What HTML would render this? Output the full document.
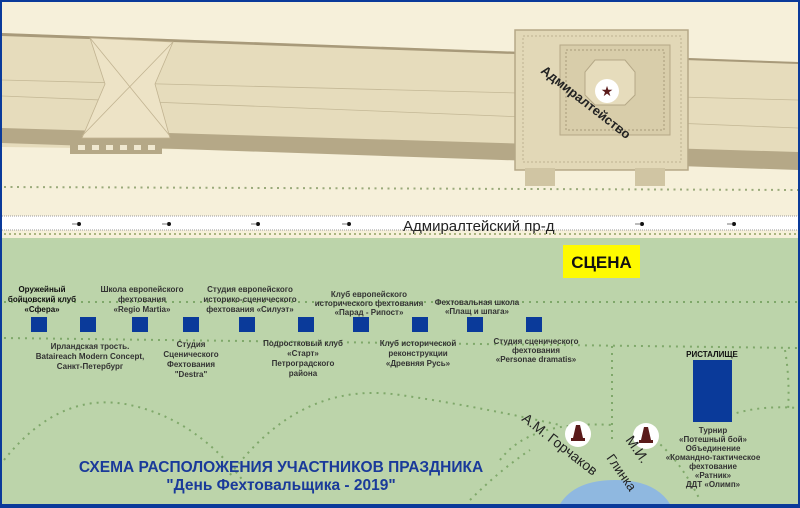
<!DOCTYPE html>
<html><head><meta charset="utf-8"><style>
html,body{margin:0;padding:0;background:#0a3a9a;width:800px;height:508px;overflow:hidden;}
svg{display:block;overflow:hidden;}
text{font-family:"Liberation Sans",sans-serif;font-weight:bold;}
.l{font-size:8px;fill:#333;text-anchor:middle;}
</style></head><body>
<svg width="800" height="508" viewBox="0 0 800 508" xmlns="http://www.w3.org/2000/svg">
<defs><clipPath id="c"><rect x="0" y="0" width="800" height="508"/></clipPath></defs>
<g clip-path="url(#c)">
<rect x="0" y="0" width="800" height="508" fill="#0a3a9a"/>
<rect x="2" y="2" width="796" height="236" fill="#f6f0da"/>
<polygon points="2,33 798,62 798,157 2,147" fill="#e6dcbc"/>
<polygon points="2,128 798,152 798,170 2,143" fill="#b5a887"/>
<polygon points="2,33 798,62 798,64 2,36" fill="#a89a7a"/>
<line x1="2" y1="80" x2="798" y2="100" stroke="#c4b896" stroke-width="0.8"/>
<line x1="2" y1="96" x2="798" y2="128" stroke="#c4b896" stroke-width="0.8"/>
<polygon points="90,38 173,42 155,84 170,138 82,138 105,84" fill="#ede3c6" stroke="#c1b391" stroke-width="0.8"/>
<line x1="90" y1="38" x2="170" y2="136" stroke="#c1b391" stroke-width="0.8"/>
<line x1="173" y1="42" x2="82" y2="136" stroke="#c1b391" stroke-width="0.8"/>
<rect x="70" y="141" width="92" height="13" fill="#b5a887"/>
<g fill="#f0e8d0"><rect x="78" y="145" width="7" height="5"/><rect x="92" y="145" width="7" height="5"/><rect x="106" y="145" width="7" height="5"/><rect x="120" y="145" width="7" height="5"/><rect x="134" y="145" width="7" height="5"/><rect x="148" y="145" width="7" height="5"/></g>
<rect x="515" y="30" width="173" height="140" fill="#e2d8b7" stroke="#b5a887" stroke-width="1.5"/>
<rect x="523" y="36" width="158" height="126" fill="none" stroke="#bfb292" stroke-width="1" stroke-dasharray="2,2"/>
<rect x="560" y="45" width="110" height="90" fill="#d8cdaa" stroke="#b5a887" stroke-width="1"/>
<rect x="566" y="50" width="98" height="80" fill="none" stroke="#a89a7a" stroke-width="1" stroke-dasharray="2,2"/>
<polygon points="595,60 625,60 635,72 635,95 625,105 595,105 585,95 585,72" fill="#e6dcbc" stroke="#b5a887"/>
<rect x="525" y="168" width="30" height="18" fill="#d0c5a3"/>
<rect x="635" y="168" width="30" height="18" fill="#d0c5a3"/>
<circle cx="607" cy="91" r="12" fill="#fff"/>
<text x="607" y="96" font-size="14" fill="#5a1a1a" text-anchor="middle" style="font-weight:normal">★</text>
<text x="0" y="0" font-size="13" fill="#222" transform="translate(540,72) rotate(38)">Адмиралтейство</text>
<line x1="4" y1="187" x2="798" y2="190" stroke="#9aaa7a" stroke-width="2" stroke-dasharray="2,4.5"/>
<rect x="2" y="216" width="796" height="14" fill="#fff"/>
<line x1="2" y1="216" x2="798" y2="216" stroke="#999" stroke-width="1" stroke-dasharray="1,1"/>
<line x1="2" y1="230" x2="798" y2="230" stroke="#999" stroke-width="1" stroke-dasharray="1,1"/>
<g fill="#111"><circle cx="79" cy="224" r="2"/><circle cx="169" cy="224" r="2"/><circle cx="258" cy="224" r="2"/><circle cx="349" cy="224" r="2"/><circle cx="642" cy="224" r="2"/><circle cx="734" cy="224" r="2"/></g>
<g stroke="#555" stroke-width="0.8"><line x1="72" y1="224" x2="78" y2="224"/><line x1="162" y1="224" x2="168" y2="224"/><line x1="251" y1="224" x2="257" y2="224"/><line x1="342" y1="224" x2="348" y2="224"/><line x1="635" y1="224" x2="641" y2="224"/><line x1="727" y1="224" x2="733" y2="224"/></g>
<text x="403" y="231" font-size="15" fill="#222" style="font-weight:normal">Адмиралтейский пр-д</text>
<line x1="4" y1="234" x2="798" y2="234" stroke="#a9b47e" stroke-width="2" stroke-dasharray="2,3"/>
<rect x="2" y="238" width="796" height="266" fill="#bcd4aa"/>
<g fill="none" stroke="#7fa86a" stroke-width="2" stroke-dasharray="2,5">
<path d="M4,302 L798,302"/>
<path d="M4,338 L798,348"/>
<path d="M612,346 L612,440"/>
<path d="M785,350 Q790,380 788,410"/>
<path d="M4,460 Q60,390 130,405 Q200,420 250,490"/>
<path d="M230,475 Q300,380 400,395 Q470,405 560,425"/>
<path d="M500,460 Q530,420 612,425"/>
<path d="M730,415 Q760,405 798,408"/>
<path d="M655,440 Q680,460 700,500"/>
<path d="M470,500 Q500,470 530,450"/>
</g>
<path d="M560,504 Q575,480 615,480 Q655,480 670,504 Z" fill="#8fb8e0"/>
<rect x="563" y="245" width="77" height="33" fill="#fffa00"/>
<text x="601.5" y="268" font-size="17" fill="#111" text-anchor="middle">СЦЕНА</text>
<g fill="#0a3a9a">
<rect x="31" y="317" width="16" height="15"/><rect x="80" y="317" width="16" height="15"/><rect x="132" y="317" width="16" height="15"/><rect x="183" y="317" width="16" height="15"/><rect x="239" y="317" width="16" height="15"/><rect x="298" y="317" width="16" height="15"/><rect x="353" y="317" width="16" height="15"/><rect x="412" y="317" width="16" height="15"/><rect x="467" y="317" width="16" height="15"/><rect x="526" y="317" width="16" height="15"/>
<rect x="693" y="360" width="39" height="62"/>
</g>
<text class="l" style="fill:#111"><tspan x="42" y="292">Оружейный</tspan><tspan x="42" y="302">бойцовский клуб</tspan><tspan x="42" y="312">«Сфера»</tspan></text>
<text class="l"><tspan x="142" y="292">Школа европейского</tspan><tspan x="142" y="302">фехтования</tspan><tspan x="142" y="312">«Regio Martia»</tspan></text>
<text class="l"><tspan x="250" y="292">Студия европейского</tspan><tspan x="250" y="302">историко-сценического</tspan><tspan x="250" y="312">фехтования «Силуэт»</tspan></text>
<text class="l"><tspan x="369" y="297">Клуб европейского</tspan><tspan x="369" y="306">исторического фехтования</tspan><tspan x="369" y="315">«Парад - Рипост»</tspan></text>
<text class="l"><tspan x="477" y="305">Фехтовальная школа</tspan><tspan x="477" y="314">«Плащ и шпага»</tspan></text>
<text class="l"><tspan x="90" y="349">Ирландская трость.</tspan><tspan x="90" y="359">Bataireach Modern Concept,</tspan><tspan x="90" y="369">Санкт-Петербург</tspan></text>
<text class="l"><tspan x="191" y="347">Студия</tspan><tspan x="191" y="357">Сценического</tspan><tspan x="191" y="367">Фехтования</tspan><tspan x="191" y="377">"Destra"</tspan></text>
<text class="l"><tspan x="303" y="346">Подростковый клуб</tspan><tspan x="303" y="356">«Старт»</tspan><tspan x="303" y="366">Петроградского</tspan><tspan x="303" y="376">района</tspan></text>
<text class="l"><tspan x="418" y="346">Клуб исторической</tspan><tspan x="418" y="356">реконструкции</tspan><tspan x="418" y="366">«Древняя Русь»</tspan></text>
<text class="l"><tspan x="536" y="344">Студия сценического</tspan><tspan x="536" y="353">фехтования</tspan><tspan x="536" y="362">«Personae dramatis»</tspan></text>
<text class="l" style="fill:#111"><tspan x="712" y="357">РИСТАЛИЩЕ</tspan></text>
<text class="l"><tspan x="713" y="433">Турнир</tspan><tspan x="713" y="442">«Потешный бой»</tspan><tspan x="713" y="451">Объединение</tspan><tspan x="713" y="460">«Командно-тактическое</tspan><tspan x="713" y="469">фехтование</tspan><tspan x="713" y="478">«Ратник»</tspan><tspan x="713" y="487">ДДТ «Олимп»</tspan></text>
<circle cx="578" cy="434" r="13" fill="#fff"/>
<circle cx="646" cy="436" r="13" fill="#fff"/>
<g fill="#5a1a1a"><polygon points="576,425 580,425 583,438 573,438"/><rect x="571" y="438" width="14" height="3"/><polygon points="644,427 648,427 651,440 641,440"/><rect x="639" y="440" width="14" height="3"/></g>
<text font-size="14" fill="#222" style="font-weight:normal" transform="translate(521,420) rotate(38)">А.М. Горчаков</text>
<text font-size="14" fill="#222" style="font-weight:normal" transform="translate(625,440) rotate(55)">М.И.</text>
<text font-size="13" fill="#222" style="font-weight:normal" transform="translate(606,458) rotate(55)">Глинка</text>
<text x="281" y="472" font-size="15.5" fill="#1a3a9a" text-anchor="middle">СХЕМА РАСПОЛОЖЕНИЯ УЧАСТНИКОВ ПРАЗДНИКА</text>
<text x="281" y="490" font-size="15.5" fill="#1a3a9a" text-anchor="middle">"День Фехтовальщика - 2019"</text>
<rect x="0" y="504" width="800" height="4" fill="#0a3a9a"/>
</g>
</svg>
</body></html>
